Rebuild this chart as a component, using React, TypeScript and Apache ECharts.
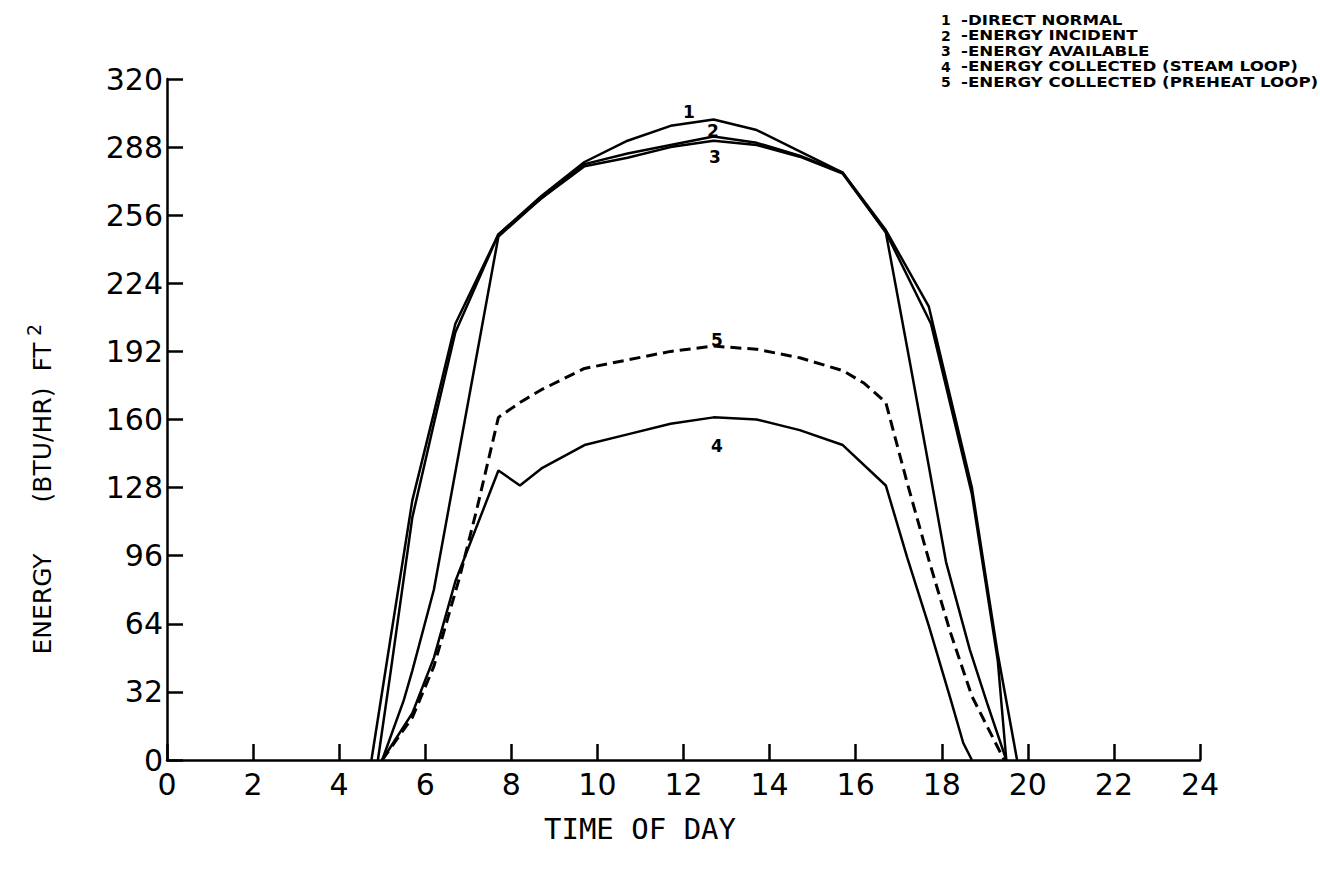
import React, { useEffect, useRef } from "react";
import * as echarts from "echarts";

// Time of day (hours) / energy (BTU/HR FT^2) pairs
const directNormal: [number, number][] = [
  [4.75, 0], [5.2, 58], [5.7, 122], [6.2, 163], [6.7, 205], [7.7, 247], [8.7, 265], [9.7, 281],
  [10.7, 291], [11.7, 298], [12.7, 301], [13.7, 296], [14.7, 286], [15.7, 276], [16.7, 249],
  [17.7, 213], [18.7, 128], [19.3, 50], [19.75, 0],
];
const energyIncident: [number, number][] = [
  [4.9, 0], [5.2, 42], [5.7, 114], [6.2, 158], [6.7, 201], [7.7, 247], [8.7, 264], [9.7, 280],
  [10.7, 285], [11.7, 289], [12.7, 293], [13.7, 290], [14.7, 284], [15.7, 276], [16.7, 248],
  [17.75, 205], [18.7, 125], [19.3, 47], [19.5, 0],
];
const energyAvailable: [number, number][] = [
  [5.0, 0], [5.5, 28], [5.7, 42], [6.2, 80], [7.7, 246], [8.7, 264], [9.7, 279], [10.7, 283],
  [11.7, 288], [12.7, 291], [13.7, 289], [14.7, 283.5], [15.7, 275.5], [16.7, 248], [17.25, 188],
  [17.7, 138], [18.1, 93], [18.65, 52], [19.05, 27], [19.5, 0],
];
const collectedSteam: [number, number][] = [
  [5.0, 0], [5.7, 22], [6.2, 48], [6.7, 84], [7.7, 136], [8.2, 129], [8.7, 137], [9.7, 148],
  [10.7, 153], [11.7, 158], [12.7, 161], [13.7, 160], [14.7, 155], [15.7, 148], [16.7, 129],
  [17.2, 95], [17.7, 63], [18.2, 29], [18.5, 8], [18.7, 0],
];
const collectedPreheat: [number, number][] = [
  [5.0, 0], [5.7, 20], [6.2, 44], [6.8, 86], [7.2, 118], [7.7, 161], [8.2, 168], [8.7, 174],
  [9.7, 184], [10.7, 188], [11.7, 192], [12.7, 194.5], [13.7, 193], [14.7, 189], [15.7, 183],
  [16.2, 177], [16.7, 168], [17.2, 130], [17.7, 94], [18.2, 60], [18.7, 30], [19.2, 10], [19.45, 0],
];

const legendNumbers = ["1", "2", "3", "4", "5"];
const legendTexts = [
  "-DIRECT NORMAL",
  "-ENERGY INCIDENT",
  "-ENERGY AVAILABLE",
  "-ENERGY COLLECTED (STEAM LOOP)",
  "-ENERGY COLLECTED (PREHEAT LOOP)",
];

const X_MIN = 0;
const X_MAX = 24;
const X_STEP = 2;
const Y_MIN = 0;
const Y_MAX = 320;
const Y_STEP = 32;

export default function App() {
  const ref = useRef<HTMLDivElement>(null);

  useEffect(() => {
    if (!ref.current) return;
    const chart = echarts.init(ref.current, null, { renderer: "svg" });
    const black = "#000";
    const lineBase = { type: "line", symbol: "none", silent: true };
    const solid = { color: black, width: 2.5 };

    const legendRowsY = [20, 35.5, 51, 66.5, 82];
    const legendGraphics: any[] = [];
    legendNumbers.forEach((n, i) => {
      legendGraphics.push({
        type: "text", x: 941, y: legendRowsY[i],
        style: { text: n, fill: black, font: "bold 14px 'DejaVu Sans'", lineHeight: 14, align: "left", verticalAlign: "middle" },
      });
      legendGraphics.push({
        type: "text", x: 961, y: legendRowsY[i], scaleX: 1.19,
        style: { text: legendTexts[i], fill: black, font: "bold 14px 'DejaVu Sans'", lineHeight: 14, align: "left", verticalAlign: "middle" },
      });
    });

    const curveLabel = (t: string, x: number, y: number) => ({
      type: "text", x, y,
      style: { text: t, fill: black, font: "bold 17px 'DejaVu Sans'", align: "center", verticalAlign: "middle" },
    });
    const yTitle = (t: string, x: number, y: number, size: number) => ({
      type: "text", x, y, rotation: Math.PI / 2,
      style: { text: t, fill: black, font: `${size}px 'DejaVu Sans'`, align: "center", verticalAlign: "middle" },
    });

    chart.setOption({
      animation: false,
      backgroundColor: "#fff",
      grid: { left: 167, right: 120, top: 79, bottom: 115, containLabel: false },
      xAxis: {
        type: "value", min: X_MIN, max: X_MAX, interval: X_STEP,
        axisLine: { show: true, lineStyle: { color: black, width: 2.5 } },
        axisTick: { show: true, inside: true, length: 16, lineStyle: { color: black, width: 2.5 } },
        axisLabel: { color: black, fontSize: 30, fontFamily: "DejaVu Sans", margin: 9, lineHeight: 30 },
        splitLine: { show: false },
      },
      yAxis: {
        type: "value", min: Y_MIN, max: Y_MAX, interval: Y_STEP,
        axisLine: { show: true, lineStyle: { color: black, width: 2.5 } },
        axisTick: { show: true, inside: true, length: 16, lineStyle: { color: black, width: 2.5 } },
        axisLabel: {
          color: black, fontSize: 30, fontFamily: "DejaVu Sans", margin: 4,
          lineHeight: 30, verticalAlign: "middle", padding: [0, 0, 22, 0],
        },
        splitLine: { show: false },
      },
      series: [
        { ...lineBase, name: "DIRECT NORMAL", data: directNormal, lineStyle: solid },
        { ...lineBase, name: "ENERGY INCIDENT", data: energyIncident, lineStyle: solid },
        { ...lineBase, name: "ENERGY AVAILABLE", data: energyAvailable, lineStyle: solid },
        { ...lineBase, name: "ENERGY COLLECTED (STEAM LOOP)", data: collectedSteam, lineStyle: solid },
        {
          ...lineBase, name: "ENERGY COLLECTED (PREHEAT LOOP)", data: collectedPreheat,
          lineStyle: { color: black, width: 3, type: [11, 6] },
        },
      ],
      graphic: [
        ...legendGraphics,
        curveLabel("1", 689, 112),
        curveLabel("2", 713, 131),
        curveLabel("3", 715, 157),
        curveLabel("5", 717, 340),
        curveLabel("4", 717, 446),
        yTitle("ENERGY", 42, 604, 25),
        yTitle("(BTU/HR)", 42, 445, 25),
        yTitle("FT", 42, 357, 25),
        yTitle("2", 34, 330, 19),
        {
          type: "text", x: 640, y: 829,
          style: { text: "TIME OF DAY", fill: black, font: "29px 'DejaVu Sans Mono'", align: "center", verticalAlign: "middle" },
        },
      ],
    });
    return () => chart.dispose();
  }, []);

  return <div ref={ref} style={{ position: "fixed", left: 0, top: 0, width: 1320, height: 875 }} />;
}
